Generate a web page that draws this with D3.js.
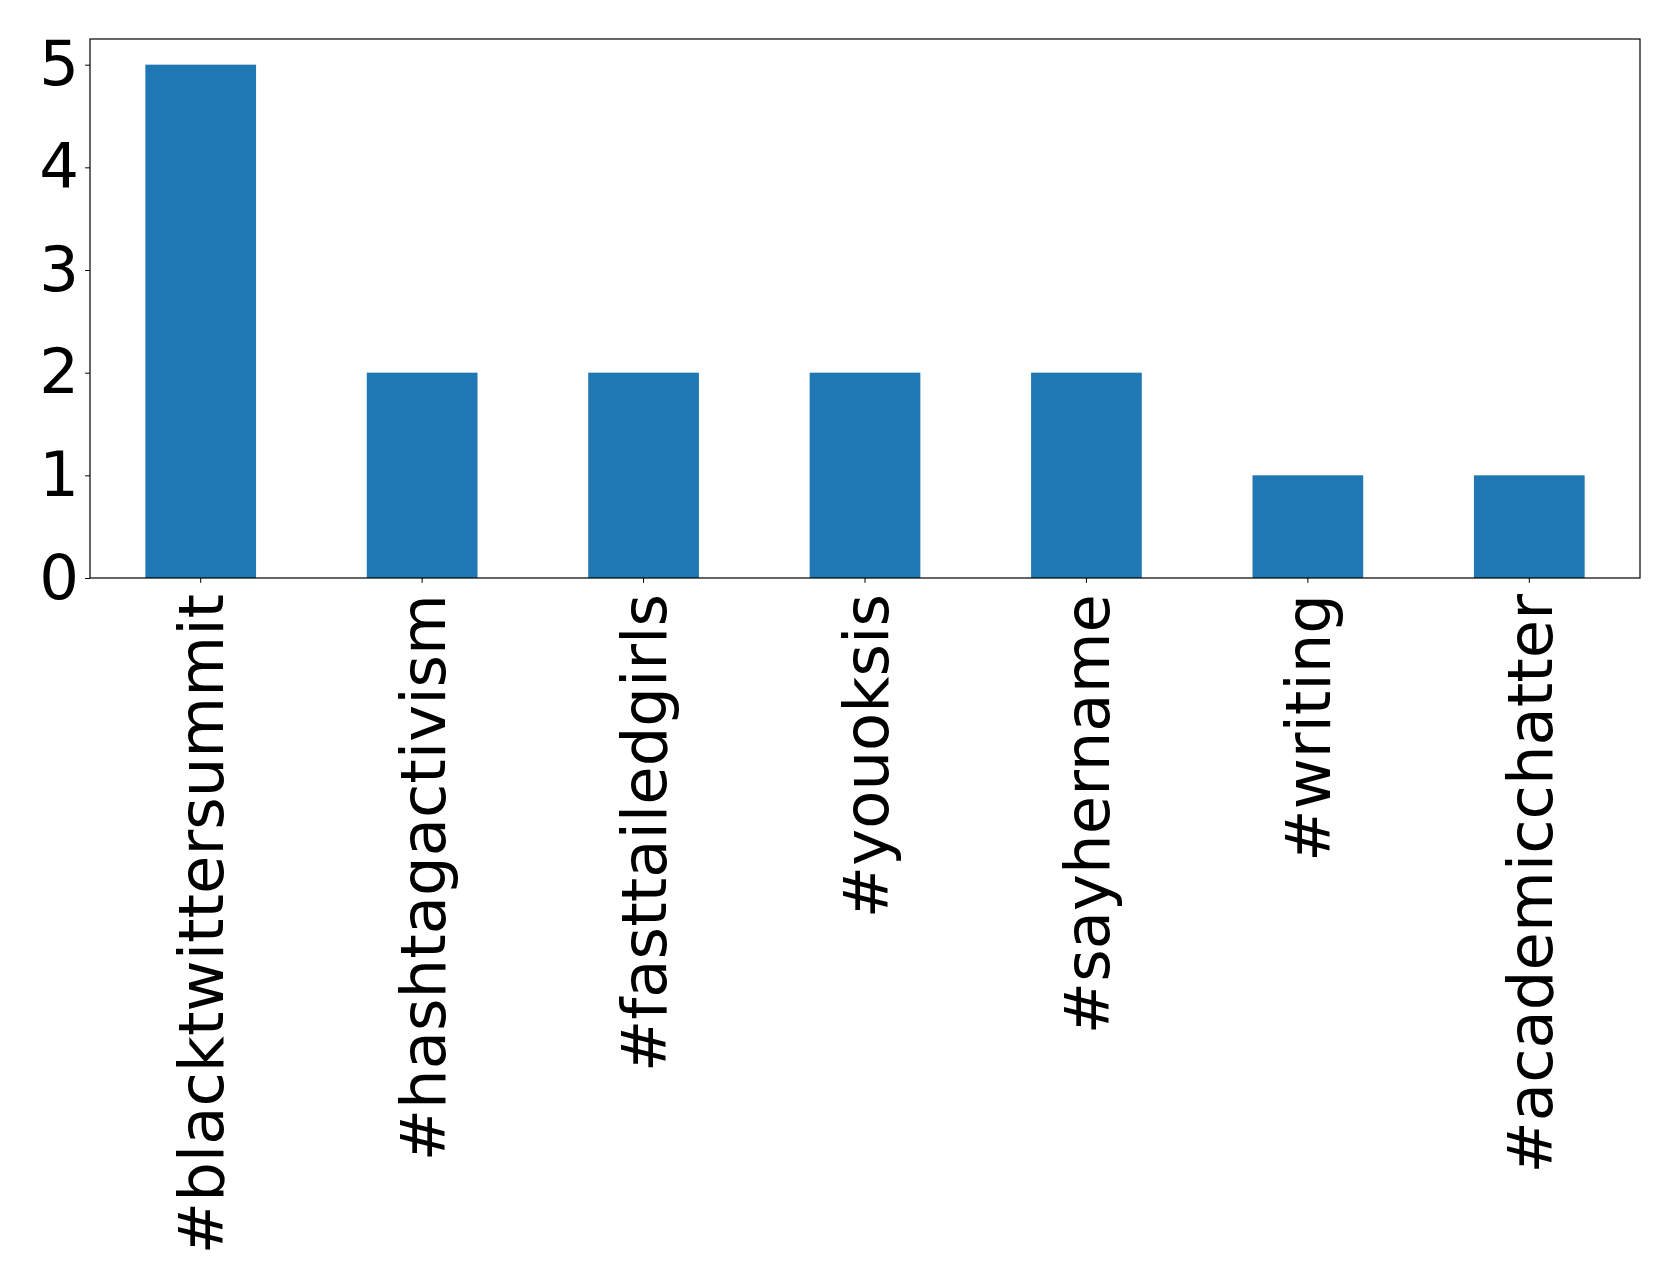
<!DOCTYPE html>
<html>
<head>
<meta charset="utf-8">
<script src="https://cdn.jsdelivr.net/npm/d3@7"></script>
<style>
html,body{margin:0;padding:0;background:#fff;}
svg{display:block;}
text{font-family:"DejaVu Sans",sans-serif;}
</style>
</head>
<body>
<svg id="chart" width="1679" height="1288"></svg>
<script>
const categories = ["#blacktwittersummit","#hashtagactivism","#fasttailedgirls","#youoksis","#sayhername","#writing","#academicchatter"];
const values = [5,2,2,2,2,1,1];
const yTicks = [0,1,2,3,4,5];

const W = 1679, H = 1288;
const m = {left:90, right:1640, top:39, bottom:578};
const svg = d3.select("#chart");

const x = d3.scaleBand().domain(categories).range([m.left, m.right]).paddingInner(0.5).paddingOuter(0.25);
const y = d3.scaleLinear().domain([0, 5.25]).range([m.bottom, m.top]);

svg.append("g").selectAll("rect").data(values).join("rect")
  .attr("x",(d,i)=>x(categories[i]))
  .attr("y",d=>y(d))
  .attr("width",x.bandwidth())
  .attr("height",d=>y(0)-y(d))
  .attr("fill","#1f77b4");

const yAxis = svg.append("g").attr("transform",`translate(${m.left},0)`)
  .call(d3.axisLeft(y).tickValues(yTicks).tickFormat(d3.format("d")).tickSize(4.9).tickPadding(6));
yAxis.select(".domain").remove();
yAxis.selectAll("text").attr("font-size","62.5px").attr("fill","#000").attr("font-family","DejaVu Sans");
yAxis.selectAll("line").attr("stroke","#000").attr("stroke-width",1);

const xAxis = svg.append("g").attr("transform",`translate(0,${m.bottom})`)
  .call(d3.axisBottom(x).tickSize(4.9).tickPadding(0));
xAxis.select(".domain").remove();
xAxis.selectAll("line").attr("stroke","#000").attr("stroke-width",1);
xAxis.selectAll("text")
  .attr("font-size","62.5px").attr("fill","#000").attr("font-family","DejaVu Sans")
  .attr("text-anchor","end")
  .attr("transform","rotate(-90)")
  .attr("x",-16).attr("y",0).attr("dy","0.36em");

svg.append("rect").attr("x",m.left).attr("y",m.top)
  .attr("width",m.right-m.left).attr("height",m.bottom-m.top)
  .attr("fill","none").attr("stroke","#000").attr("stroke-width",1.2);
</script>
</body>
</html>
